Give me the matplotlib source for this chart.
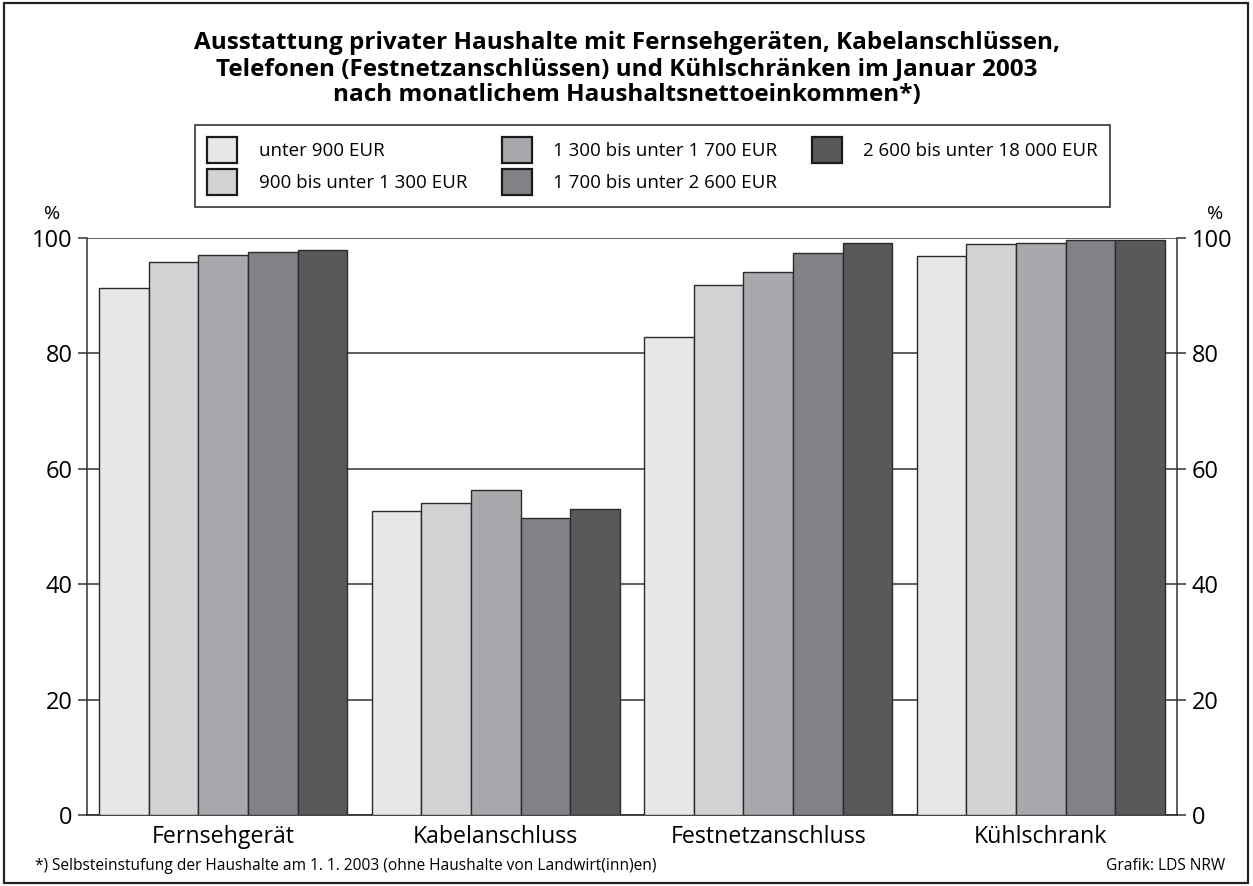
import matplotlib.pyplot as plt
import matplotlib.patches as patches
import numpy as np

plt.rcParams['font.family'] = ['Open Sans', 'DejaVu Sans']

categories = ["Fernsehgerät", "Kabelanschluss", "Festnetzanschluss", "Kühlschrank"]
income_groups = ["unter 900 EUR", "900 bis unter 1 300 EUR", "1 300 bis unter 1 700 EUR",
                 "1 700 bis unter 2 600 EUR", "2 600 bis unter 18 000 EUR"]
# Ausstattungsgrad in % je Einkommensklasse (Reihenfolge wie categories)
unter_900 = [91.3, 52.6, 82.8, 96.8]
von_900 = [95.9, 54.0, 91.8, 98.9]
von_1300 = [97.0, 56.3, 94.1, 99.2]
von_1700 = [97.5, 51.4, 97.4, 99.7]
von_2600 = [97.9, 53.0, 99.1, 99.7]
series = [unter_900, von_900, von_1300, von_1700, von_2600]
yticks = [0, 20, 40, 60, 80, 100]

colors = ["#e6e7e8", "#d1d2d4", "#a7a9ac", "#808285", "#58595b"]
edge = "#2b2b2b"
grid_c = "#333333"

fig = plt.figure(figsize=(12.53, 8.86), dpi=100)
ax = fig.add_axes([87 / 1253, 71 / 886, 1090 / 1253, 577 / 886])

x = np.arange(len(categories))
w = 0.182
for i, vals in enumerate(series):
    ax.bar(x + (i - 2) * w, vals, width=w, color=colors[i], edgecolor=edge,
           linewidth=1.0, label=income_groups[i], zorder=3)

ax.set_xlim(-0.5, 3.5)
ax.set_ylim(0, 100)
ax.set_yticks(yticks)
ax.yaxis.grid(True, color=grid_c, linewidth=1.1, zorder=0)
ax.set_axisbelow(True)
ax.tick_params(axis='y', which='both', left=True, right=True, labelleft=True, labelright=True,
               length=6.5, width=1.1, color=grid_c, labelsize=17, pad=4)
ax.set_xticks(x)
ax.set_xticklabels(categories)
ax.tick_params(axis='x', length=0, labelsize=16.7, pad=7)
ax.spines['top'].set_visible(False)
for s in ['left', 'right']:
    ax.spines[s].set_color(grid_c)
    ax.spines[s].set_linewidth(1.1)
ax.spines['bottom'].set_color(grid_c)
ax.spines['bottom'].set_linewidth(1.3)

fig.text(52 / 1253, 1 - 214 / 886, "%", fontsize=14, ha='center', va='center')
fig.text(1215 / 1253, 1 - 214 / 886, "%", fontsize=14, ha='center', va='center')

title = ("Ausstattung privater Haushalte mit Fernsehgeräten, Kabelanschlüssen,\n"
         "Telefonen (Festnetzanschlüssen) und Kühlschränken im Januar 2003\n"
         "nach monatlichem Haushaltsnettoeinkommen*)")
fig.text(0.5, 1 - 69 / 886, title, fontsize=17.5, fontweight='bold', ha='center', va='center',
         linespacing=1.13)

leg = fig.legend(loc='lower left', bbox_to_anchor=(195 / 1253, 1 - 207 / 886, 915 / 1253, 85 / 886),
                 mode='expand', ncol=3, fontsize=13.5, frameon=True, fancybox=False,
                 edgecolor='black', handlelength=1.6, handleheight=1.78, handletextpad=1.15,
                 labelspacing=0.3, borderpad=0.64, borderaxespad=0)
leg.get_frame().set_linewidth(1.2)
for h in leg.legend_handles:
    h.set_linewidth(1.6)
    h.set_edgecolor("#1a1a1a")

fig.text(35 / 1253, 1 - 866 / 886, "*) Selbsteinstufung der Haushalte am 1. 1. 2003 (ohne Haushalte von Landwirt(inn)en)",
         fontsize=11.2, ha='left', va='center')
fig.text(1225 / 1253, 1 - 866 / 886, "Grafik: LDS NRW", fontsize=11.2, ha='right', va='center')

fig.add_artist(patches.Rectangle((4 / 1253, 3 / 886), 1244 / 1253, 880 / 886,
                                 transform=fig.transFigure, fill=False, edgecolor='#222222',
                                 linewidth=1.6))

fig.savefig("out.png", dpi=100)
